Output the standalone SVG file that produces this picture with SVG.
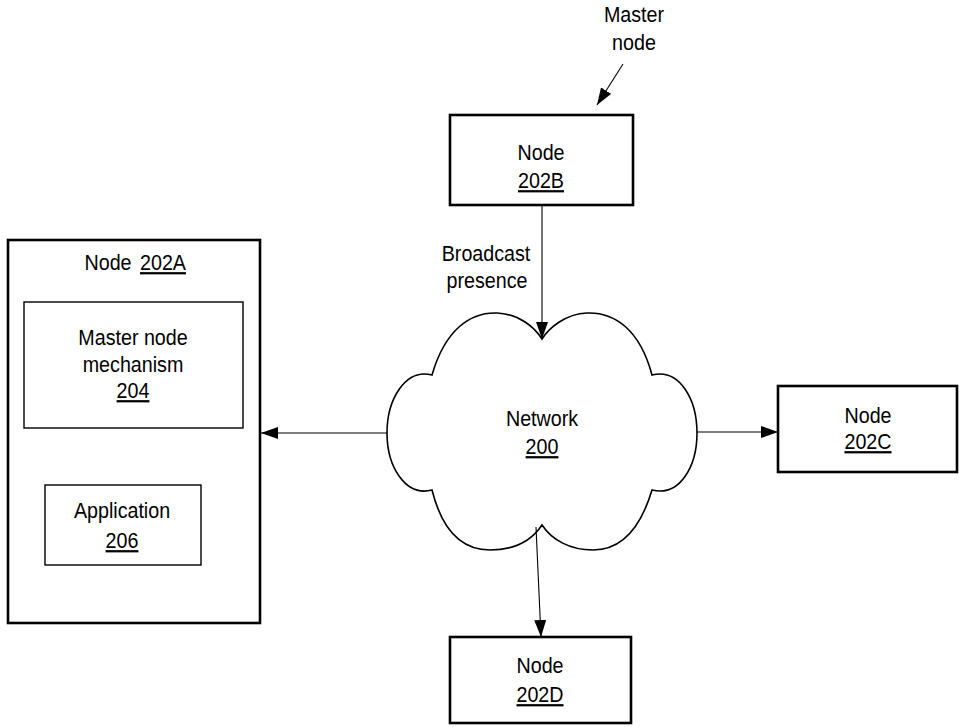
<svg xmlns="http://www.w3.org/2000/svg" width="960" height="727" viewBox="0 0 960 727">
<defs>
<style>
text{font-family:"Liberation Sans",Arial,sans-serif;font-size:22.5px;fill:#000;text-anchor:middle}
.u{text-decoration:underline}
.box{fill:#fff;stroke:#000;stroke-width:2.6}
.inner{fill:#fff;stroke:#000;stroke-width:1.4}
.cloud{fill:#fff;stroke:#000;stroke-width:1.6}
.conn{fill:none;stroke:#000;stroke-width:1.1}
</style>
<marker id="ah" markerUnits="userSpaceOnUse" markerWidth="18" markerHeight="12" refX="17" refY="6" orient="auto">
<path d="M0,0 L17,6 L0,12 Z" fill="#000"/>
</marker>
</defs>
<rect width="960" height="727" fill="#fff"/>

<g id="node-202A">
<rect class="box" x="8" y="240" width="252" height="383"/>
<text transform="translate(108,270) scale(0.875,1)">Node</text>
<text class="u" transform="translate(163,270) scale(0.875,1)">202A</text>
</g>
<g id="mechanism-204">
<rect class="inner" x="24" y="302" width="219" height="126"/>
<text transform="translate(133,345) scale(0.875,1)">Master node</text>
<text transform="translate(133,372) scale(0.875,1)">mechanism</text>
<text class="u" transform="translate(133,398) scale(0.875,1)">204</text>
</g>
<g id="application-206">
<rect class="inner" x="45" y="485" width="156" height="80"/>
<text transform="translate(122,518) scale(0.875,1)">Application</text>
<text class="u" transform="translate(122,548) scale(0.875,1)">206</text>
</g>

<g id="node-202B">
<rect class="box" x="450" y="115" width="183" height="90"/>
<text transform="translate(541,160) scale(0.875,1)">Node</text>
<text class="u" transform="translate(541,188) scale(0.875,1)">202B</text>
</g>
<g id="master-label">
<text transform="translate(634,22) scale(0.875,1)">Master</text>
<text transform="translate(634,50) scale(0.875,1)">node</text>
</g>

<g id="network-200">
<path class="cloud" d="M432,375 C445,330 470,312 497,313 C520,314 535,328 542,339 C549,328 565,314 587,313 C615,312 640,330 652,375 C680,368 697,400 697,433 C697,466 680,497 652,490 C640,530 620,550 593,550 C570,550 552,540 542,525 C532,540 515,550 490,550 C462,550 442,530 432,490 C405,497 387,466 387,433 C387,400 405,368 432,375 Z"/>
<text transform="translate(542,426) scale(0.875,1)">Network</text>
<text class="u" transform="translate(542,454) scale(0.875,1)">200</text>
</g>

<g id="node-202C">
<rect class="box" x="778" y="386" width="179" height="86"/>
<text transform="translate(868,423) scale(0.875,1)">Node</text>
<text class="u" transform="translate(868,449) scale(0.875,1)">202C</text>
</g>

<g id="node-202D">
<rect class="box" x="450" y="637" width="181" height="86"/>
<text transform="translate(540,673) scale(0.875,1)">Node</text>
<text class="u" transform="translate(540,702) scale(0.875,1)">202D</text>
</g>

<g id="connectors">
<line class="conn" x1="623" y1="64" x2="597" y2="105" marker-end="url(#ah)"/>
<line class="conn" x1="542" y1="205" x2="542" y2="339" marker-end="url(#ah)"/>
<line class="conn" x1="387" y1="433" x2="261" y2="433" marker-end="url(#ah)"/>
<line class="conn" x1="697" y1="432" x2="778" y2="432" marker-end="url(#ah)"/>
<line class="conn" x1="536" y1="527" x2="541" y2="637" marker-end="url(#ah)"/>
<text transform="translate(486,261) scale(0.875,1)">Broadcast</text>
<text transform="translate(487,288) scale(0.875,1)">presence</text>
</g>
</svg>
